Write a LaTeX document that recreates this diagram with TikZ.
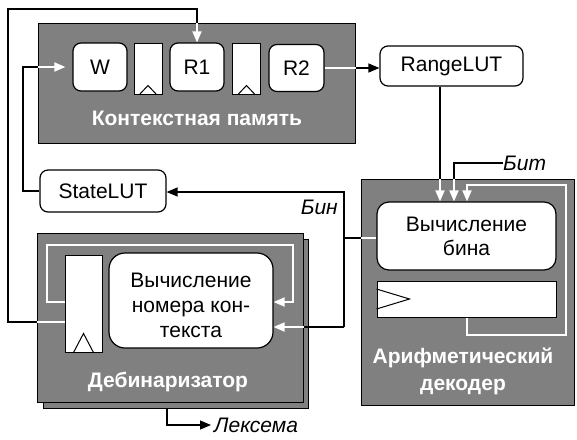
\documentclass[tikz,border=0pt]{standalone}
\usepackage{fontspec}
\setmainfont{Liberation Sans}
\usetikzlibrary{arrows.meta}
\definecolor{panelgray}{HTML}{808080}
\begin{document}
\begin{tikzpicture}[x=1pt,y=-1pt,
  font=\fontsize{21}{25}\selectfont,
  panel/.style={draw=black, line width=1pt, fill=panelgray, inner sep=0pt},
  unit/.style={draw=black, line width=1.2pt, fill=white, rounded corners=8pt,
    inner sep=0pt, align=center},
  latch/.style={draw=black, line width=1pt, fill=white, inner sep=0pt},
  paneltitle/.style={text=white, align=center,
    font=\bfseries\fontsize{21}{26.5}\selectfont},
  lbl/.style={inner sep=0pt, font=\itshape\fontsize{21}{25}\selectfont},
  blk/.style={line width=1.3pt, draw=black},
  wht/.style={line width=1.8pt, draw=white},
  tipb/.style={-{Triangle[length=11pt,width=9pt]}},
  tipw/.style={-{Triangle[length=11pt,width=9pt,fill=white]}},
  clk/.style={line width=1pt, draw=black}]
\useasboundingbox (0,0) rectangle (577,439);

% ---- context memory ----
\node[panel, minimum width=317pt, minimum height=120pt] (cm) at (196.5,83) {};
\node[unit, minimum width=54pt, minimum height=48pt] (w) at (100,67) {W};
\node[latch, minimum width=28pt, minimum height=51pt] (l1) at (148,68.5) {};
\node[unit, minimum width=54pt, minimum height=48pt] (r1) at (197,67) {R1};
\node[latch, minimum width=28pt, minimum height=51pt] (l2) at (246.5,68.5) {};
\node[unit, minimum width=55pt, minimum height=47pt] (r2) at (296.5,68) {R2};
\node[paneltitle] (cmt) at (197,118) {Контекстная память};
\draw[clk] (l1.south) ++(-8.5,0) -- ++(8.5,-9) -- ++(8.5,9);
\draw[clk] (l2.south) ++(-8.5,0) -- ++(8.5,-9) -- ++(8.5,9);

% ---- lookup tables ----
\node[unit, minimum width=143pt, minimum height=40pt] (range) at (451.5,66) {RangeLUT};
\node[unit, minimum width=126pt, minimum height=42pt] (state) at (103,191) {StateLUT};

% ---- arithmetic decoder ----
\node[panel, minimum width=213pt, minimum height=226pt] (ar) at (467.5,292) {};
\node[unit, rounded corners=12pt, minimum width=179pt, minimum height=68pt,
  font=\fontsize{21}{24}\selectfont] (bin) at (466.5,236) {Вычисление\\бина};
\node[latch, minimum width=179pt, minimum height=36pt] (l3) at (466.5,299) {};
\draw[clk] (l3.west) ++(0,-10) -- ++(33,10) -- ++(-33,10);
\node[paneltitle] (art) at (463,371.5) {Арифметический\\декодер};

% ---- debinarizer ----
\node[panel, minimum width=265pt, minimum height=169pt] (dbback) at (175.5,323.5) {};
\node[panel, minimum width=266pt, minimum height=169pt] (db) at (170,317.5) {};
\node[latch, minimum width=37pt, minimum height=97pt] (l4) at (83.5,303.5) {};
\draw[clk] (l4.south) ++(-10,0) -- ++(10,-19) -- ++(10,19);
\node[unit, rounded corners=16pt, minimum width=164pt, minimum height=95pt]
  (ctx) at (191,300.5) {};
\node[align=center, inner sep=0pt] (ctxt) at (191,305) {Вычисление\\номера кон-\\текста};
\node[paneltitle] (dbt) at (168,382) {Дебинаризатор};

% ---- connectors ----
% latch of the debinarizer back to R1
\coordinate (fb) at (8,322);
\coordinate (top) at (8,9);
\draw[blk] (db.west |- fb) -- (fb) -- (top) -- (r1.north |- top) -- (r1.north |- cm.north);
\draw[wht] (l4.west |- fb) -- (db.west |- fb);
\draw[wht,tipw] (r1.north |- cm.north) -- (r1.north);

% StateLUT into W
\coordinate (sl) at (23,191);
\draw[blk] (state.west) -- (sl) -- (sl |- w.west) -- (cm.west |- w.west);
\draw[wht,tipw,shorten >=7pt] (cm.west |- w.west) -- (w.west);

% R2 into RangeLUT
\draw[wht] (r2.east) -- (cm.east |- r2.east);
\draw[blk,tipb] (cm.east |- r2.east) -- (range.west |- r2.east);

% RangeLUT into the bin computation
\coordinate (rx) at (440,0);
\draw[blk] (range.south -| rx) -- (ar.north -| rx);
\draw[wht,tipw] (ar.north -| rx) -- (bin.north -| rx);

% incoming bit
\node[lbl, anchor=west] (bit) at (503,163) {Бит};
\coordinate (bt) at (454,163);
\draw[blk] (bit.west) -- (bt) -- (bt |- ar.north);
\draw[wht,tipw] (bt |- ar.north) -- (bt |- bin.north);

% register loop of the arithmetic decoder
\coordinate (lx) at (467,185);
\draw[wht,tipw] (l3.south -| lx) |- (566,335) |- (lx) -- (lx |- bin.north);

% decoded bin
\coordinate (bj) at (344,238);
\coordinate (bu) at (344,192);
\coordinate (bd) at (344,327);
\draw[wht] (bin.west |- bj) -- (ar.west |- bj);
\draw[blk] (ar.west |- bj) -- (bj);
\draw[blk,tipb] (bd) -- (bu) -- (state.east |- bu);
\draw[blk] (bd) -- (db.east |- bd);
\draw[wht,tipw] (db.east |- bd) -- (ctx.east |- bd);
\node[lbl, anchor=east] (binlbl) at (338,207) {Бин};

% register loop of the debinarizer
\coordinate (il) at (47,302);
\draw[wht,tipw] (l4.west |- il) -- (il) |- (293,245) |- (ctx.east |- il);

% output token
\coordinate (lx2) at (167,425);
\node[lbl, anchor=west] (lex) at (214,425) {Лексема};
\draw[blk,tipb,shorten >=3pt] (dbback.south -| lx2) |- (lex.west);
\end{tikzpicture}
\end{document}
